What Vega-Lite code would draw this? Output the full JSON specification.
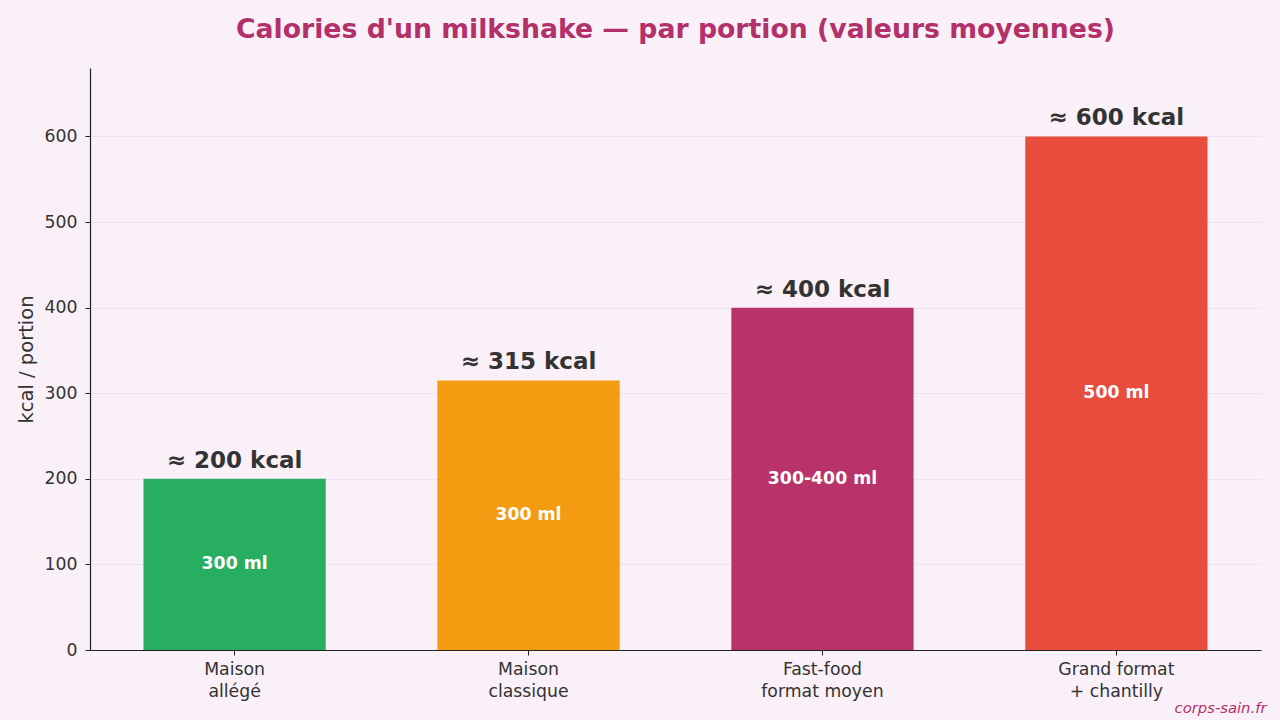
{
  "$schema": "https://vega.github.io/schema/vega-lite/v6.json",
  "width": 1171,
  "height": 582,
  "autosize": {"type": "none"},
  "padding": {"left": 90, "top": 68, "right": 19, "bottom": 70},
  "background": "#f9f0f8",
  "config": {
    "view": {"stroke": null},
    "font": "DejaVu Sans"
  },
  "title": {
    "text": "Calories d'un milkshake — par portion (valeurs moyennes)",
    "anchor": "middle",
    "frame": "group",
    "fontSize": 26.7,
    "fontWeight": "bold",
    "color": "#b3306a",
    "font": "DejaVu Sans",
    "baseline": "alphabetic",
    "offset": 3
  },
  "data": {
    "values": [
      {"categorie": "Maison\nallégé", "kcal": 200, "volume": "300 ml", "etiquette": "≈ 200 kcal"},
      {"categorie": "Maison\nclassique", "kcal": 315, "volume": "300 ml", "etiquette": "≈ 315 kcal"},
      {"categorie": "Fast-food\nformat moyen", "kcal": 400, "volume": "300-400 ml", "etiquette": "≈ 400 kcal"},
      {"categorie": "Grand format\n+ chantilly", "kcal": 600, "volume": "500 ml", "etiquette": "≈ 600 kcal"}
    ]
  },
  "encoding": {
    "x": {
      "field": "categorie",
      "type": "nominal",
      "sort": null,
      "scale": {"paddingInner": 0.38, "paddingOuter": 0.182},
      "axis": {
        "title": "corps-sain.fr",
        "titleFont": "DejaVu Sans",
        "titleFontStyle": "italic",
        "titleFontWeight": "normal",
        "titleFontSize": 14.8,
        "titleColor": "#b3306a",
        "titleAlign": "right",
        "titleAnchor": "end",
        "titleBaseline": "alphabetic",
        "titleX": 1176,
        "titleY": 62,
        "labelExpr": "split(datum.value, '\\n')",
        "labelAngle": 0,
        "labelFontSize": 17.3,
        "labelColor": "#333333",
        "labelLineHeight": 22,
        "labelPadding": 5,
        "labelBaseline": "top",
        "tickSize": 5,
        "tickColor": "#222222",
        "domainColor": "#222222",
        "domainWidth": 1.2
      }
    },
    "y": {
      "field": "kcal",
      "type": "quantitative",
      "scale": {"domain": [0, 680], "nice": false},
      "axis": {
        "title": "kcal / portion",
        "titleFontSize": 19.5,
        "titleFontWeight": "normal",
        "titleColor": "#333333",
        "titleAngle": -90,
        "titleAlign": "center",
        "titleBaseline": "middle",
        "titleX": -64,
        "titleY": 291,
        "values": [0, 100, 200, 300, 400, 500, 600],
        "labelFontSize": 17.3,
        "labelColor": "#333333",
        "labelPadding": 8,
        "tickSize": 5,
        "tickColor": "#222222",
        "domainColor": "#222222",
        "domainWidth": 1.2,
        "grid": true,
        "gridColor": "#ece2f4",
        "gridWidth": 1
      }
    }
  },
  "layer": [
    {
      "mark": {"type": "bar"},
      "encoding": {
        "color": {
          "field": "categorie",
          "type": "nominal",
          "sort": null,
          "scale": {
            "domain": ["Maison\nallégé", "Maison\nclassique", "Fast-food\nformat moyen", "Grand format\n+ chantilly"],
            "range": ["#27ae60", "#f39c12", "#b8336a", "#e74c3c"]
          },
          "legend": null
        }
      }
    },
    {
      "mark": {"type": "text", "baseline": "alphabetic", "dy": -11, "fontSize": 23, "fontWeight": "bold", "color": "#333333", "font": "DejaVu Sans"},
      "encoding": {"text": {"field": "etiquette"}}
    },
    {
      "transform": [{"calculate": "datum.kcal / 2", "as": "milieu"}],
      "mark": {"type": "text", "baseline": "middle", "fontSize": 17.3, "fontWeight": "bold", "color": "#ffffff", "font": "DejaVu Sans"},
      "encoding": {
        "y": {"field": "milieu", "type": "quantitative"},
        "text": {"field": "volume"}
      }
    }
  ]
}
